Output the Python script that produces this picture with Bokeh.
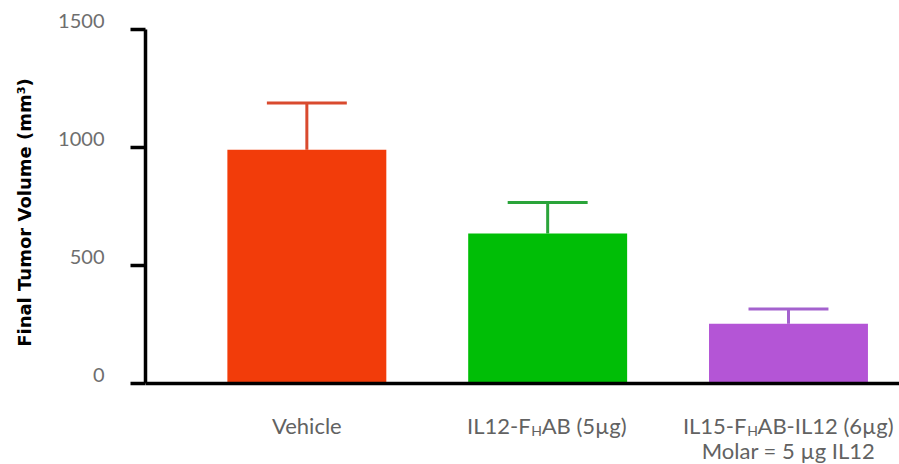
from bokeh.plotting import figure
from bokeh.layouts import column
from bokeh.models import Range1d, FixedTicker, Span, LinearAxis, CustomLabelingPolicy
from bokeh.core.properties import value
from bokeh.embed import file_html
from bokeh.resources import INLINE

# ---- data ----
positions = [1, 2, 3]
means = [990, 636, 253]
errors = [198, 131, 63]
bar_colors = ["#F23C0A", "#00BE06", "#B455D6"]
err_colors = ["#D94A2E", "#2AA43A", "#A462CE"]
label_head = ["Vehicle", "IL12-F", "IL15-F"]
label_sub = ["", "H", "H"]
label_tail = ["", "AB (5µg)", "AB-IL12 (6µg)"]
label_note = ["", "", "Molar = 5 µg IL12"]
y_ticks = [0, 500, 1000, 1500]
y_label = "Final Tumor Volume (mm³)"

# ---- style constants ----
BAR_W = 0.66
CAP_HALF = 0.166
SUB_ANCHOR_PX = [0, -11, -36]
FONT = "Lato"
GRAY = "#626262"
MAIN_SIZE = "22px"
SUB_SIZE = "14px"
Y_START, Y_END = -89, 1538.1
LABEL_LIFT = 38  # tick labels sit slightly above their ticks (in data units)

xr = Range1d(0.330, 3.461)

# ---- chart ----
p = figure(width=899, height=404, output_backend="svg", toolbar_location=None,
           x_axis_type=None, x_range=xr, y_range=Range1d(Y_START, Y_END),
           min_border_left=145, min_border_right=0, min_border_top=20, min_border_bottom=0)
p.outline_line_color = None
p.grid.grid_line_color = None
p.background_fill_color = "white"

tops = [m + e for m, e in zip(means, errors)]
p.segment(x0=positions, y0=means, x1=positions, y1=tops, line_color=err_colors, line_width=3)
p.segment(x0=[x - CAP_HALF for x in positions], y0=tops,
          x1=[x + CAP_HALF for x in positions], y1=tops, line_color=err_colors, line_width=3)
p.vbar(x=positions, top=means, bottom=0, width=BAR_W, fill_color=bar_colors, line_color=None)
p.add_layout(Span(location=0, dimension="width", line_color="black", line_width=3.5))

# main y axis: line and ticks only (no labels drawn)
ya = p.yaxis[0]
ya.ticker = FixedTicker(ticks=y_ticks)
ya.bounds = (0, 1500)
ya.axis_line_width = 3.5
ya.axis_line_color = "black"
ya.major_tick_line_width = 3.5
ya.major_tick_out = 15
ya.major_tick_in = 0
ya.minor_tick_line_color = None
ya.major_label_policy = CustomLabelingPolicy(code="""
    for (const i of indices)
        indices.unset(i)
    return indices
""")
ya.major_label_text_font_size = "1px"
ya.major_label_standoff = 0

# label axis: tick labels and title, slightly lifted above the ticks
p.extra_y_ranges = {"labels": Range1d(Y_START - LABEL_LIFT, Y_END - LABEL_LIFT)}
la = LinearAxis(y_range_name="labels", ticker=FixedTicker(ticks=y_ticks))
la.axis_line_color = None
la.major_tick_line_color = None
la.major_tick_out = 0
la.major_tick_in = 0
la.minor_tick_line_color = None
la.major_label_standoff = 21
la.major_label_text_font = FONT
la.major_label_text_font_size = "20px"
la.major_label_text_color = "#6e6e6e"
la.axis_label = y_label
la.axis_label_text_font = "DejaVu Sans"
la.axis_label_text_font_style = "bold"
la.axis_label_text_font_size = "18px"
la.axis_label_text_color = "black"
la.axis_label_standoff = 20
p.add_layout(la, "left")

# ---- category labels strip (shares the x range) ----
q = figure(width=899, height=60, output_backend="svg", toolbar_location=None,
           x_axis_type=None, y_axis_type=None, x_range=xr, y_range=Range1d(0, 60),
           min_border_left=145, min_border_right=0, min_border_top=0, min_border_bottom=0)
q.outline_line_color = None
q.grid.grid_line_color = None
LABEL_Y = 39
NOTE_Y = 14

for i, x in enumerate(positions):
    if label_sub[i] == "":
        q.text(x=[x], y=[LABEL_Y], text=[label_head[i]], text_align="center",
               text_baseline="alphabetic", text_font=value(FONT), text_font_size=MAIN_SIZE,
               text_color=GRAY)
    else:
        a = SUB_ANCHOR_PX[i]
        q.text(x=[x], y=[LABEL_Y], text=[label_head[i]], x_offset=a - 6, text_align="right",
               text_baseline="alphabetic", text_font=value(FONT), text_font_size=MAIN_SIZE,
               text_color=GRAY)
        q.text(x=[x], y=[LABEL_Y], text=[label_sub[i]], x_offset=a, y_offset=5, text_align="center",
               text_baseline="alphabetic", text_font=value(FONT), text_font_size=SUB_SIZE,
               text_color=GRAY)
        q.text(x=[x], y=[LABEL_Y], text=[label_tail[i]], x_offset=a + 5, text_align="left",
               text_baseline="alphabetic", text_font=value(FONT), text_font_size=MAIN_SIZE,
               text_color=GRAY)
    if label_note[i]:
        q.text(x=[x], y=[NOTE_Y], text=[label_note[i]], text_align="center",
               text_baseline="alphabetic", text_font=value(FONT), text_font_size=MAIN_SIZE,
               text_color=GRAY)

layout = column(p, q, spacing=0)
open("out.html", "w").write(file_html(layout, INLINE))
